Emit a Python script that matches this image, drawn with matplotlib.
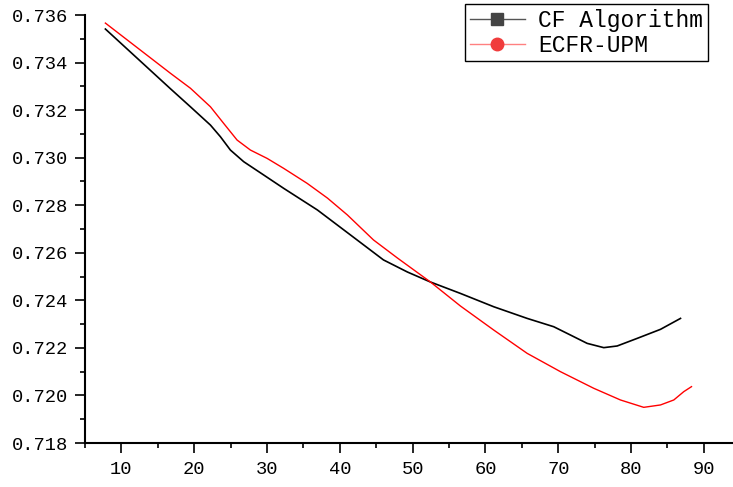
import matplotlib
matplotlib.use('Agg')
import matplotlib.pyplot as plt
from matplotlib.lines import Line2D
from matplotlib.ticker import MultipleLocator, FormatStrFormatter

# CF Algorithm (black)
cf_x = [7.8, 16.73, 19.48, 22.23, 23.6, 24.97, 26.8, 29.55, 32.29, 36.92,
        41.46, 45.99, 49.29, 52.45, 56.57, 61.14, 65.73, 69.38, 71.68, 73.97,
        76.25, 78.09, 80.84, 84.04, 86.79]
cf_y = [0.73541, 0.73290, 0.73214, 0.73137, 0.73088, 0.73032, 0.72983, 0.72927,
        0.72871, 0.72780, 0.72675, 0.72570, 0.72519, 0.72477, 0.72429, 0.72373,
        0.72324, 0.72289, 0.72254, 0.72219, 0.72201, 0.72208, 0.72240, 0.72278,
        0.72324]

# ECFR-UPM (red)
ec_x = [7.8, 16.73, 19.48, 22.23, 24.05, 25.89, 27.72, 30.01, 32.29, 35.51,
        38.30, 41.04, 44.62, 47.91, 52.45, 56.57, 61.14, 65.73, 70.30, 74.88,
        78.54, 81.74, 84.04, 85.87, 87.24, 88.30]
ec_y = [0.73566, 0.73355, 0.73292, 0.73214, 0.73144, 0.73074, 0.73032, 0.72997,
        0.72955, 0.72892, 0.72830, 0.72759, 0.72654, 0.72578, 0.72477, 0.72376,
        0.72275, 0.72177, 0.72100, 0.72030, 0.71981, 0.71950, 0.71960, 0.71981,
        0.72016, 0.72037]

font = 'Liberation Mono'
plt.rcParams['font.family'] = [font, 'DejaVu Sans']

fig = plt.figure(figsize=(7.33, 4.87), dpi=100)
ax = fig.add_axes([85 / 733, 44 / 487, 1 - 85 / 733, 428 / 487])

ax.plot(cf_x, cf_y, color='black', lw=1.2)
ax.plot(ec_x, ec_y, color='#ff0000', lw=1.0)

ax.set_xlim(5, 94)
ax.set_ylim(0.718, 0.736)
ax.xaxis.set_major_locator(MultipleLocator(10))
ax.xaxis.set_minor_locator(MultipleLocator(5))
ax.yaxis.set_major_locator(MultipleLocator(0.002))
ax.yaxis.set_minor_locator(MultipleLocator(0.001))
ax.yaxis.set_major_formatter(FormatStrFormatter('%.3f'))

for s in ['top', 'right']:
    ax.spines[s].set_visible(False)
for s in ['left', 'bottom']:
    ax.spines[s].set_linewidth(1.5)

ax.tick_params(which='major', direction='out', length=7, width=1.2,
               labelsize=13.5, pad=5)
ax.tick_params(which='minor', direction='out', length=3.5, width=1.2)
ax.tick_params(axis='x', which='major', pad=6)

handles = [
    Line2D([], [], color='#555555', lw=1, marker='s', markersize=8,
           markerfacecolor='#444444', markeredgecolor='#444444'),
    Line2D([], [], color='#ff8080', lw=1, marker='o', markersize=9,
           markerfacecolor='#f03c3c', markeredgecolor='#f03c3c'),
]
leg = ax.legend(handles, ['CF Algorithm', 'ECFR-UPM'], loc='upper right',
                bbox_to_anchor=(708 / 733, 1 - 4 / 487),
                bbox_transform=fig.transFigure, borderaxespad=0,
                fancybox=False, framealpha=1, edgecolor='black',
                fontsize=16.5, handlelength=2.4, handletextpad=0.6,
                borderpad=0.2, labelspacing=0.1)
leg.get_frame().set_linewidth(1.0)

plt.savefig('out.png', dpi=100)
plt.close()
